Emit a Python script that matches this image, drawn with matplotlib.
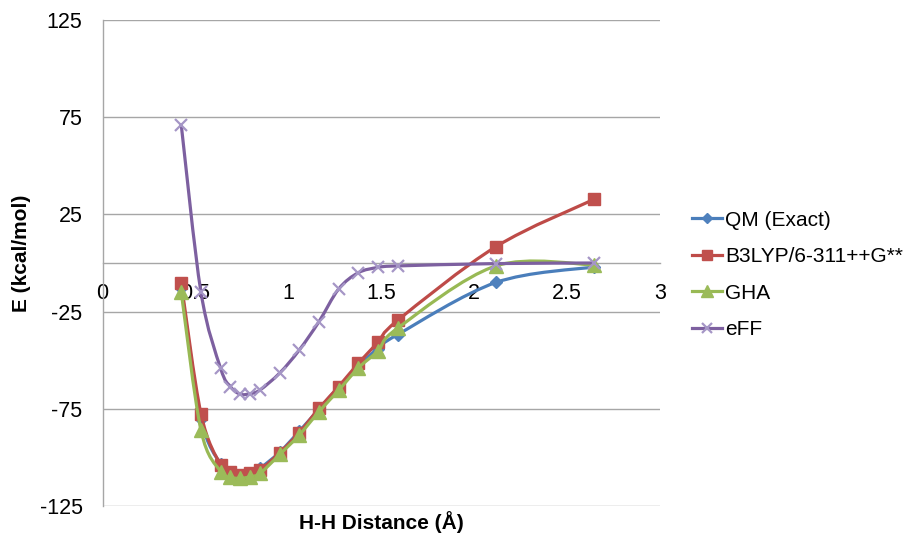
import numpy as np
import matplotlib
matplotlib.use("Agg")
import matplotlib.pyplot as plt
from matplotlib.path import Path
from matplotlib.patches import PathPatch
from matplotlib.lines import Line2D

plt.rcParams['font.family'] = ['Liberation Sans', 'DejaVu Sans']
plt.rcParams['axes.unicode_minus'] = False

# H-H distances (Angstrom) and energies (kcal/mol)
distance = [0.423, 0.529, 0.635, 0.688, 0.741, 0.794, 0.847, 0.953,
            1.058, 1.164, 1.270, 1.376, 1.482, 1.588, 2.117, 2.646]
qm_exact = [-12.6, -80.0, -103.5, -107.5, -109.5, -108.5, -105.6, -97.3,
            -86.6, -75.2, -63.8, -52.9, -44.0, -36.8, -10.0, -2.0]
b3lyp = [-10.3, -77.5, -103.9, -107.3, -109.1, -108.0, -106.5, -97.6,
         -87.3, -74.8, -63.6, -51.6, -40.8, -29.5, 8.4, 32.8]
gha = [-15.0, -86.0, -107.3, -110.2, -110.8, -109.9, -108.2, -98.5,
       -88.5, -76.5, -65.5, -54.0, -45.2, -33.5, -1.5, -1.0]
eff = [71.0, -15.0, -54.2, -63.6, -67.5, -67.2, -65.3, -56.6,
       -44.8, -30.2, -13.4, -5.0, -2.3, -1.5, -0.3, 0.0]

series_names = ['QM (Exact)', 'B3LYP/6-311++G**', 'GHA', 'eFF']
x_ticks = [0, 0.5, 1, 1.5, 2, 2.5, 3]
x_tick_labels = ['0', '0.5', '1', '1.5', '2', '2.5', '3']
y_ticks = [-125, -75, -25, 25, 75, 125]


def smooth_path(x, y, t=1.0 / 6):
    """Catmull-Rom style Bezier path through the points (spreadsheet 'smoothed line')."""
    pts = np.column_stack([x, y])
    n = len(pts)
    verts = [pts[0]]
    codes = [Path.MOVETO]
    for i in range(n - 1):
        p0 = pts[max(i - 1, 0)]
        p1 = pts[i]
        p2 = pts[i + 1]
        p3 = pts[min(i + 2, n - 1)]
        verts += [p1 + (p2 - p0) * t, p2 - (p3 - p1) * t, p2]
        codes += [Path.CURVE4] * 3
    return Path(verts, codes)


fig = plt.figure(figsize=(9.16, 5.35), dpi=100)
ax = fig.add_axes([0.1121, 0.0542, 0.6084, 0.9084])

styles = [
    dict(color='#4A7EBB', marker='D', ms=6.5, mfc='#4F81BD', mec='#4F81BD', mew=1),
    dict(color='#BE4B48', marker='s', ms=9, mfc='#C0504D', mec='#C0504D', mew=1),
    dict(color='#98B954', marker='^', ms=10, mfc='#9BBB59', mec='#9BBB59', mew=1),
    dict(color='#7D60A0', marker='x', ms=9, mfc='none', mec='#A596C6', mew=1.6),
]

handles = []
for k, (yy, st) in enumerate(zip([qm_exact, b3lyp, gha, eff], styles)):
    z = 3 + k
    ax.add_patch(PathPatch(smooth_path(distance, yy), fill=False,
                           edgecolor=st['color'], lw=2.3, zorder=z,
                           capstyle='round', joinstyle='round'))
    ax.plot(distance, yy, linestyle='none', marker=st['marker'], ms=st['ms'],
            mfc=st['mfc'], mec=st['mec'], mew=st['mew'], zorder=z + 0.5)
    handles.append(Line2D([], [], color=st['color'], lw=2.3, marker=st['marker'],
                          ms=st['ms'] * 0.8, mfc=st['mfc'], mec=st['mec'],
                          mew=st['mew']))

ax.set_xlim(0, 3)
ax.set_ylim(-125, 125)
ax.set_xticks(x_ticks)
ax.set_xticklabels(x_tick_labels)
ax.set_yticks(y_ticks)
ax.tick_params(axis='both', length=0, labelsize=15.5, colors='black')
ax.tick_params(axis='x', pad=14.5)
ax.tick_params(axis='y', pad=14.5)

ax.grid(True, axis='y', color='#A6A6A6', lw=1.0)
ax.set_axisbelow(True)
for side in ['top', 'right']:
    ax.spines[side].set_visible(False)
ax.spines['left'].set_color('#A6A6A6')
ax.spines['left'].set_linewidth(1.0)
ax.spines['bottom'].set_position(('data', 0))
ax.spines['bottom'].set_color('#A6A6A6')
ax.spines['bottom'].set_linewidth(1.0)

fig.text(0.024, 1 - 253 / 535, 'E (kcal/mol)', rotation=90, ha='center',
         va='center', fontsize=15, fontweight='bold')
fig.text(381 / 916, 1 - 522 / 535, 'H-H Distance (Å)', ha='center',
         va='center', fontsize=15, fontweight='bold')

fig.legend(handles, series_names, loc='center left',
           bbox_to_anchor=(692 / 916, 1 - 275 / 535), frameon=False,
           fontsize=15, handlelength=1.45, handletextpad=0.15,
           labelspacing=0.84, borderpad=0, borderaxespad=0)

fig.savefig('out.png', dpi=100)
